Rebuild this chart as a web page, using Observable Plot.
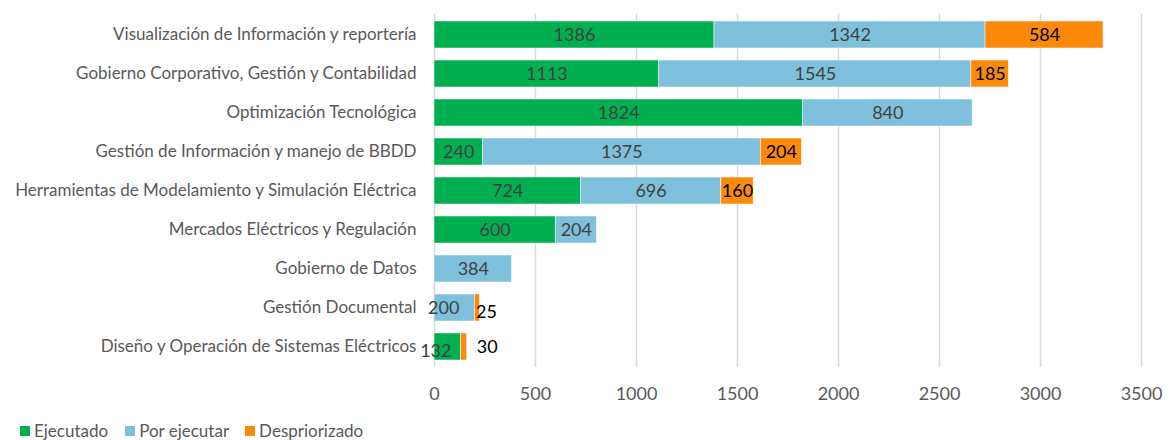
<!DOCTYPE html>
<html><head><meta charset="utf-8">
<script src="https://cdn.jsdelivr.net/npm/d3@7"></script>
<script src="https://cdn.jsdelivr.net/npm/@observablehq/plot@0.6"></script>
<style>
body{margin:0;background:#fff;font-family:Lato,"Open Sans",sans-serif;}
#legend{display:flex;gap:0;margin-left:20px;margin-top:1px;font-size:17px;color:#595959;line-height:18px;}
.item{display:flex;align-items:center;}
.sw{width:10px;height:10px;margin-right:4px;}
</style></head><body>
<div id="chart"></div>
<div id="legend"></div>
<script>
const categories = [
  "Visualización de Información y reportería",
  "Gobierno Corporativo, Gestión y Contabilidad",
  "Optimización Tecnológica",
  "Gestión de Información y manejo de BBDD",
  "Herramientas de Modelamiento y Simulación Eléctrica",
  "Mercados Eléctricos y Regulación",
  "Gobierno de Datos",
  "Gestión Documental",
  "Diseño y Operación de Sistemas Eléctricos"
];
const series = ["Ejecutado", "Por ejecutar", "Despriorizado"];
const ejecutado    = [1386, 1113, 1824, 240, 724, 600, 0, 0, 132];
const porEjecutar  = [1342, 1545, 840, 1375, 696, 204, 384, 200, 0];
const despriorizado= [584, 185, 0, 204, 160, 0, 0, 25, 30];
const xTicks = [0, 500, 1000, 1500, 2000, 2500, 3000, 3500];
const colors = ["#00B050", "#7FC1DC", "#FB8A0A"];

const values = [ejecutado, porEjecutar, despriorizado];
const data = [];
categories.forEach((c, i) => series.forEach((s, j) => data.push({cat: c, series: s, value: values[j][i]})));

const key = d => d.cat + "|" + d.series;
const special = {
  "Gestión Documental|Por ejecutar": {dx: -11, dy: 0},
  "Gestión Documental|Despriorizado": {dx: 9, dy: 4},
  "Diseño y Operación de Sistemas Eléctricos|Ejecutado": {dx: -12, dy: 4},
  "Diseño y Operación de Sistemas Eléctricos|Despriorizado": {dx: 23, dy: 0}
};
const stk = opts => Plot.stackX({x: "value", y: "cat", z: "series", order: series, ...opts});
const labelFill = d => d.series === "Despriorizado" ? "#000" : "#404040";

const marks = [
  Plot.gridX(xTicks, {stroke: "#D9D9D9", strokeOpacity: 1, strokeWidth: 1.5}),
  Plot.barX(data, stk({fill: "series", stroke: "white", strokeWidth: 0.5})),
  Plot.text(data, stk({text: d => (d.value > 0 && !special[key(d)]) ? String(d.value) : "", fill: labelFill, fontSize: 18}))
];
for (const k in special) {
  const o = special[k];
  marks.push(Plot.text(data, stk({text: d => key(d) === k ? String(d.value) : "", fill: labelFill, fontSize: 18, dx: o.dx, dy: o.dy})));
}

const chart = Plot.plot({
  width: 1169, height: 421,
  marginLeft: 434, marginRight: 28, marginTop: 14, marginBottom: 54,
  style: {fontFamily: "Lato, 'Open Sans', sans-serif", color: "#595959", background: "white"},
  x: {domain: [0, 3500], ticks: xTicks, tickSize: 0, label: null},
  y: {domain: categories, paddingInner: 0.31, paddingOuter: 0.155, tickSize: 0, label: null},
  color: {domain: series, range: colors},
  marks: [
    ...marks,
    Plot.axisX({ticks: xTicks, tickFormat: d => String(d), tickSize: 0, tickPadding: 20, label: null, fontSize: 18, fill: "#595959"}),
    Plot.axisY({tickSize: 0, tickPadding: 18, label: null, fontSize: 17, fill: "#595959"})
  ]
});
document.getElementById("chart").appendChild(chart);

const legend = document.getElementById("legend");
const gaps = [17, 16, 0];
series.forEach((s, i) => {
  const it = document.createElement("div"); it.className = "item"; it.style.marginRight = gaps[i] + "px";
  const sw = document.createElement("div"); sw.className = "sw"; sw.style.background = colors[i];
  const t = document.createElement("span"); t.textContent = s;
  it.appendChild(sw); it.appendChild(t); legend.appendChild(it);
});
</script>
</body></html>
